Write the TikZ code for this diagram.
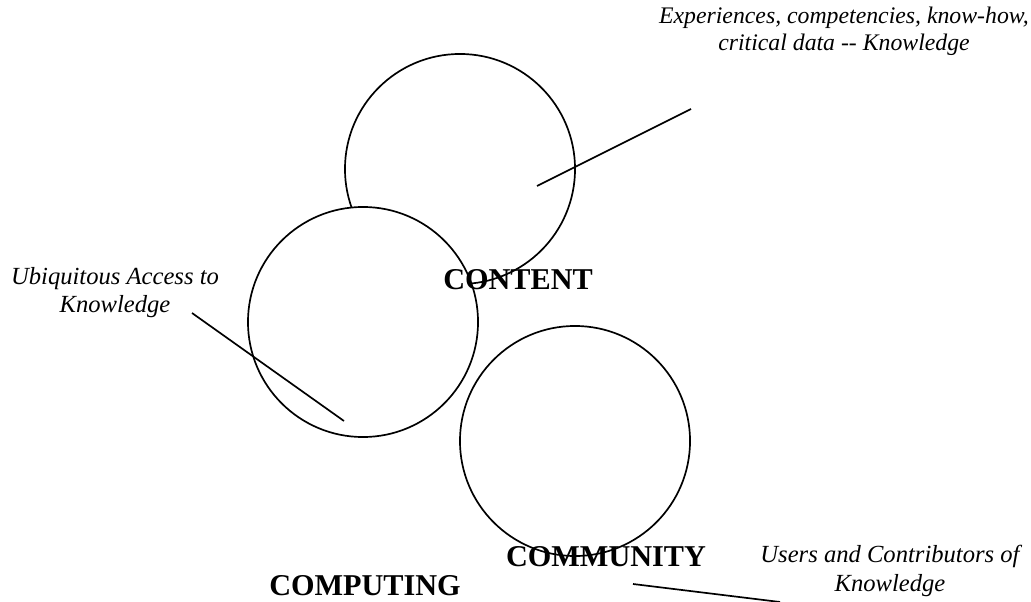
\documentclass[tikz,border=0pt]{standalone}
\usepackage{fontspec}
\setmainfont{Liberation Serif}
\tikzset{
  ring/.style={draw, line width=1.2pt, circle, inner sep=0pt, fill=white, minimum size=5.75cm},
  note/.style={font=\fontsize{17.5}{20}\selectfont\itshape, align=center},
  title/.style={font=\fontsize{21.5}{24}\selectfont\bfseries, inner sep=1pt},
  leader/.style={line width=1.2pt}
}
\begin{document}
\begin{tikzpicture}[x=0.025cm, y=-0.025cm]
\useasboundingbox (0,0) rectangle (1031,602);
% Circles (the left one lies over the top one)
\node[ring] (content) at (460,169) {};
\node[ring] (computing) at (363,322) {};
\node[ring] (community) at (575,441) {};
% Titles
\node[title] (contentlbl) at (518,280) {CONTENT};
\node[title] (communitylbl) at (606,557) {COMMUNITY};
\node[title] (computinglbl) at (365,586) {COMPUTING};
% Notes
\node[note, font=\fontsize{16.9}{19.5}\selectfont\itshape] (knowledge) at (844,31) {Experiences, competencies, know-how,\\ critical data -{}- Knowledge};
\node[note] (access) at (115,293) {Ubiquitous Access to\\ Knowledge};
\node[note] (users) at (890,571) {Users and Contributors of\\ Knowledge};
% Leader lines
\coordinate (k1) at (537,186);
\coordinate (k2) at (691,109);
\coordinate (a1) at (192,313);
\coordinate (a2) at (344,421);
\coordinate (u1) at (633,584);
\coordinate (u2) at (780,602);
\draw[leader] (k1) -- (k2);
\draw[leader] (a1) -- (a2);
\draw[leader] (u1) -- (u2);
\end{tikzpicture}
\end{document}
